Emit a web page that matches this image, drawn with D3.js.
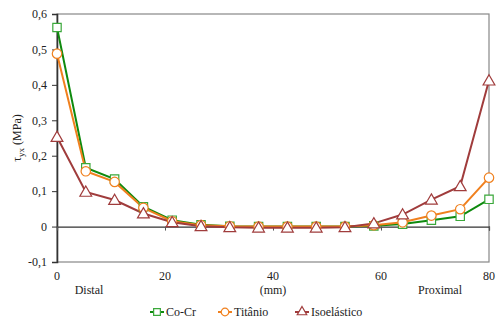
<!DOCTYPE html>
<html>
<head>
<meta charset="utf-8">
<script src="https://cdn.jsdelivr.net/npm/d3@7"></script>
<style>
  body { margin: 0; background: #fff; }
  text { font-family: "Times New Roman", Times, "Liberation Serif", "DejaVu Serif", "Noto Serif", serif; }
</style>
</head>
<body>
<div id="chart"></div>
<script>
const positions = [0, 5.33, 10.67, 16, 21.33, 26.67, 32, 37.33, 42.67, 48, 53.33, 58.67, 64, 69.33, 74.67, 80];
const coCr = [0.562, 0.166, 0.134, 0.056, 0.018, 0.005, 0.001, 0, 0, 0, 0, 0.002, 0.007, 0.018, 0.029, 0.077];
const titanio = [0.488, 0.156, 0.126, 0.053, 0.015, 0.004, 0.001, 0, 0, 0, 0, 0.004, 0.012, 0.031, 0.049, 0.138];
const isoelastico = [0.253, 0.098, 0.075, 0.037, 0.012, 0.001, -0.002, -0.003, -0.003, -0.003, -0.002, 0.009, 0.034, 0.076, 0.114, 0.412];
const xTicks = [0, 20, 40, 60, 80];
const yTicks = [-0.1, 0, 0.1, 0.2, 0.3, 0.4, 0.5, 0.6];
const seriesNames = ["Co-Cr", "Titânio", "Isoelástico"];

const W = 496, H = 320;
const m = { left: 57, right: 7, top: 14, bottom: 58 };

const svg = d3.select("#chart").append("svg")
  .attr("width", W).attr("height", H);

const x = d3.scaleLinear().domain([0, 80]).range([m.left, W - m.right]);
const y = d3.scaleLinear().domain([-0.1, 0.6]).range([H - m.bottom, m.top]);

const fmt = (d) => d3.format(".1f")(d).replace(".", ",").replace("−", "-");

// frame (top, right, bottom in gray)
svg.append("rect")
  .attr("x", x(0)).attr("y", y(0.6))
  .attr("width", x(80) - x(0)).attr("height", y(-0.1) - y(0.6))
  .attr("fill", "none").attr("stroke", "#888").attr("stroke-width", 1.2);

// y axis
const yAxis = svg.append("g")
  .attr("transform", `translate(${x(0)},0)`)
  .call(d3.axisLeft(y).tickValues(yTicks).tickSize(5).tickPadding(5)
    .tickFormat((d) => d === 0 ? "0" : fmt(d)));
yAxis.attr("font-size", 12);
yAxis.select(".domain").attr("stroke", "#333").attr("stroke-width", 1.6);
yAxis.selectAll(".tick line").attr("stroke", "#333");
yAxis.selectAll("text").attr("fill", "#222");

// zero line with x ticks
const xAxis = svg.append("g")
  .attr("transform", `translate(0,${y(0)})`)
  .call(d3.axisBottom(x).tickValues(xTicks).tickSize(4).tickFormat(""));
xAxis.select(".domain").attr("stroke", "#333").attr("stroke-width", 1.2);
xAxis.selectAll(".tick line").attr("stroke", "#555");

// x tick labels below the plot
svg.append("g").selectAll("text")
  .data(xTicks)
  .enter().append("text")
  .attr("x", (d) => x(d))
  .attr("y", y(-0.1) + 18)
  .attr("text-anchor", "middle")
  .attr("font-size", 12)
  .attr("fill", "#222")
  .text((d) => d);

svg.append("text").attr("x", 89).attr("y", y(-0.1) + 32)
  .attr("text-anchor", "middle").attr("font-size", 12).attr("fill", "#222").text("Distal");
svg.append("text").attr("x", x(40)).attr("y", y(-0.1) + 32)
  .attr("text-anchor", "middle").attr("font-size", 12).attr("fill", "#222").text("(mm)");
svg.append("text").attr("x", 440).attr("y", y(-0.1) + 32)
  .attr("text-anchor", "middle").attr("font-size", 12).attr("fill", "#222").text("Proximal");

// y label
const yl = svg.append("text")
  .attr("transform", `translate(21,${(y(0.6) + y(-0.1)) / 2}) rotate(-90)`)
  .attr("text-anchor", "middle")
  .attr("fill", "#222")
  .attr("font-size", 12);
yl.append("tspan").text("τ");
yl.append("tspan").attr("dy", 3).attr("font-size", 9).text("yx");
yl.append("tspan").attr("dy", -3).text(" (MPa)");

const series = [
  { name: seriesNames[0], values: coCr, line: "#0e8a0e", mark: "#3aa83a", shape: d3.symbolSquare, size: 70 },
  { name: seriesNames[1], values: titanio, line: "#f0801e", mark: "#f0801e", shape: d3.symbolCircle, size: 70 },
  { name: seriesNames[2], values: isoelastico, line: "#a03c3c", mark: "#a03c3c", shape: d3.symbolTriangle, size: 60 },
];

const line = d3.line()
  .x((d, i) => x(positions[i]))
  .y((d) => y(d));

series.forEach((s) => {
  svg.append("path")
    .datum(s.values)
    .attr("fill", "none")
    .attr("stroke", s.line)
    .attr("stroke-width", 2)
    .attr("d", line);
});

series.forEach((s) => {
  svg.append("g").selectAll("path")
    .data(s.values)
    .enter().append("path")
    .attr("transform", (d, i) => `translate(${x(positions[i])},${y(d) + (s.shape === d3.symbolTriangle ? 1 : 0)})`)
    .attr("d", d3.symbol().type(s.shape).size(s.size))
    .attr("fill", "#fff")
    .attr("stroke", s.mark)
    .attr("stroke-width", 1.2);
});

// legend
const legendX = [150, 218, 295];
const lg = svg.append("g").attr("transform", `translate(0,${H - 8})`);
series.forEach((s, i) => {
  const g = lg.append("g").attr("transform", `translate(${legendX[i]},0)`);
  g.append("line").attr("x1", 0).attr("x2", 14).attr("y1", 0).attr("y2", 0)
    .attr("stroke", s.line).attr("stroke-width", 2);
  g.append("path").attr("transform", "translate(7,0)")
    .attr("d", d3.symbol().type(s.shape).size(s.size * 0.65))
    .attr("fill", "#fff").attr("stroke", s.mark).attr("stroke-width", 1.2);
  g.append("text").attr("x", 16).attr("y", 4).attr("font-size", 12).attr("fill", "#222").text(s.name);
});
</script>
</body>
</html>
